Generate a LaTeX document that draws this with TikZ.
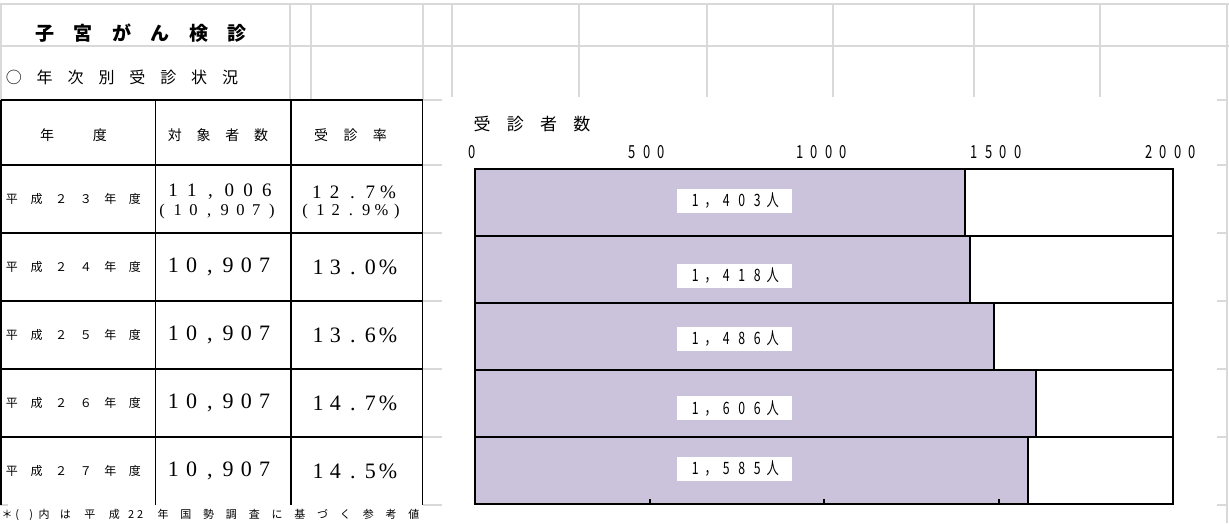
\documentclass[tikz,border=0pt]{standalone}
\usepackage{fontspec}
\newfontfamily\jpfont{Noto Sans CJK JP}
\newfontfamily\jpnarrow[FakeStretch=0.72]{Noto Sans CJK JP}
\newfontfamily\numfont{Liberation Serif}
\definecolor{cellgray}{RGB}{217,217,217}
\definecolor{barfill}{RGB}{203,194,219}
\makeatletter
\newcommand\pitched[2]{\def\pt@pitch{#1}\edef\pt@text{#2}\expandafter\pt@loop\pt@text\relax}
\def\pt@loop#1{\ifx\relax#1\else\makebox[\pt@pitch]{#1}\expandafter\pt@loop\fi}
\makeatother
\tikzset{
  cellline/.style={cellgray,line width=1.5pt},
  tabline/.style={line width=1.8pt},
  barline/.style={line width=2pt},
  tag/.style={fill=white,inner sep=0pt,minimum width=115pt,minimum height=24pt,
    font=\jpnarrow\fontsize{17}{17}\selectfont}
}
\begin{document}
\begin{tikzpicture}[x=1pt,y=-1pt]
    \useasboundingbox[fill=white] (0,0) rectangle (1229,523);
    % sheet grid
    \draw[cellline] (0,4)--(1229,4) (0,46)--(1229,46) (1227,100)--(1227,523) (0,505)--(8,505);
    \foreach \gx in {1,290,311,423,1227} \draw[cellline] (\gx,4)--(\gx,100);
    \foreach \gx in {452,579,707,833,974,1100} \draw[cellline] (\gx,4)--(\gx,97);
    \foreach \gy in {100,165,233,301,369,437,505} {
        \draw[cellline] (423,\gy)--(442,\gy);
        \draw[cellline] (1217,\gy)--(1227,\gy);
    }
    % headings
    \node[font=\jpfont\fontsize{19}{19}\selectfont\bfseries] (title) at (141,33) {\pitched{38.4pt}{子宮がん検診}};
    \node[font=\jpfont\fontsize{16}{16}\selectfont] (subtitle) at (122,77) {\pitched{30.9pt}{○年次別受診状況}};
    % table
    \foreach \ty in {100,165,233,301,369,437} \draw[tabline] (1,\ty)--(422.5,\ty);
    \foreach \tx in {1,155.5,291,422.5} \draw[tabline] (\tx,100)--(\tx,505);
    \node[font=\jpfont\fontsize{14}{14}\selectfont] (hyear) at (73.5,135) {\pitched{26.5pt}{年　度}};
    \node[font=\jpfont\fontsize{14}{14}\selectfont] (hcount) at (218,135) {\pitched{28.7pt}{対象者数}};
    \node[font=\jpfont\fontsize{14}{14}\selectfont] (hrate) at (350.5,135) {\pitched{29.5pt}{受診率}};
    \node[font=\jpfont\fontsize{12}{12}\selectfont] (yr1) at (73.5,199) {\pitched{24.6pt}{平成２３年度}};
    \node[font=\numfont\fontsize{19}{19}\selectfont] (cnt1) at (220,192) {\pitched{18.8pt}{11,006}};
    \node[font=\numfont\fontsize{16.5}{16.5}\selectfont] (ref1) at (217,212) {\pitched{15.7pt}{(10,907)}};
    \node[font=\numfont\fontsize{19}{19}\selectfont] (rate1) at (352.5,192) {\pitched{17.8pt}{12.7\%}};
    \node[font=\numfont\fontsize{16.5}{16.5}\selectfont] (rref1) at (351,212) {\pitched{15.3pt}{(12.9\%)}};
    \foreach \yr/\rate [count=\i from 2] in {２４/13.0\%,２５/13.6\%,２６/14.7\%,２７/14.5\%} {
        \pgfmathsetmacro\ry{199+(\i-1)*68}
        \node[font=\jpfont\fontsize{12}{12}\selectfont] (yr\i) at (73.5,\ry) {\pitched{24.6pt}{平成\yr 年度}};
        \node[font=\numfont\fontsize{22}{22}\selectfont] (cnt\i) at (219,\ry) {\pitched{18.3pt}{10,907}};
        \node[font=\numfont\fontsize{22}{22}\selectfont] (rate\i) at (353,\ry) {\pitched{17.5pt}{\rate}};
    }
    \node[anchor=west,inner sep=0pt,font=\jpfont\fontsize{11}{11}\selectfont] (note) at (1,515)
        {\makebox[12pt]{＊}\makebox[8pt]{(}\makebox[6pt]{}\makebox[8pt]{)}\makebox[18pt]{内}\pitched{24.5pt}{は平成}\makebox[9pt]{2}\makebox[9pt]{2}\hspace{7pt}\pitched{22.8pt}{年国勢調査に基づく参考値}};
    % chart
    \node[font=\jpfont\fontsize{17}{17}\selectfont] (ctitle) at (532,124) {\pitched{33.3pt}{受診者数}};
    \foreach \t in {0,500,1000,1500,2000}
        \node[font=\jpnarrow\fontsize{18}{18}\selectfont] (ax\t) at (472.5+\t*0.349,152) {\pitched{14.5pt}{\t}};
    \foreach \v/\lab/\ly [count=\b] in {1403/1，403人/200.5,1418/1，418人/276,1486/1，486人/338.7,1606/1，606人/408.3,1585/1，585人/469} {
        \pgfmathsetmacro\bt{169+(\b-1)*67}
        \pgfmathsetmacro\bx{475+\v*0.349}
        \filldraw[barline,fill=barfill] (475,\bt) rectangle (\bx,\bt+67);
        \draw[barline] (\bx,\bt) rectangle (1173,\bt+67);
        \node[tag] (lab\b) at (734,\ly) {\pitched{15.5pt}{\lab}\hspace{16pt}};
    }
    \foreach \t in {500,1000,1500} \draw[barline] (475+\t*0.349,504)--(475+\t*0.349,499);
\end{tikzpicture}
\end{document}
